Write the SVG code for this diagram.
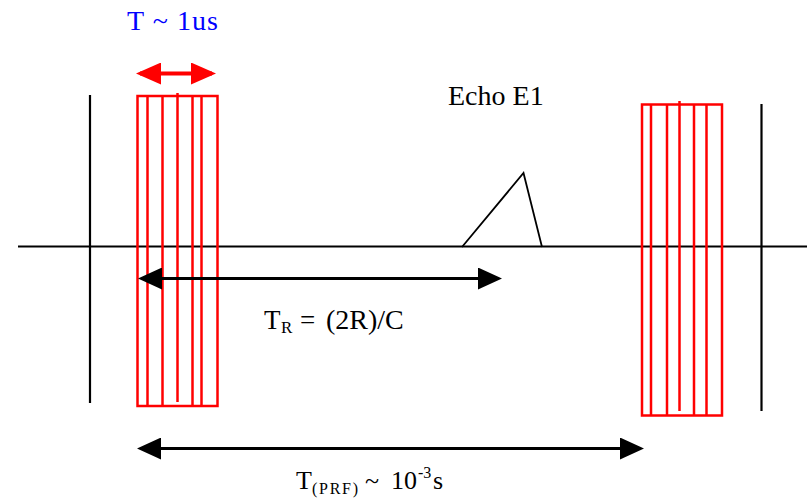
<svg xmlns="http://www.w3.org/2000/svg" width="807" height="498" viewBox="0 0 807 498">
<style>
.ax{stroke:#000;stroke-width:2.2;fill:none}
.pulse{stroke:#ff0000;stroke-width:2.5;fill:none}
.arr{stroke:#000;stroke-width:3;fill:none}
.rarr{stroke:#ff0000;stroke-width:4;fill:none}
.echo{stroke:#000;stroke-width:1.8;fill:none}
text{font-family:"Liberation Serif","Times New Roman",serif;fill:#000}
.blue{fill:#0000ff}
</style>
<defs>
<marker id="ah" viewBox="0 0 24 22" refX="20" refY="11" markerWidth="24" markerHeight="22" markerUnits="userSpaceOnUse" orient="auto-start-reverse">
<path d="M0,0 L24,11 L0,22 z" fill="#000"/>
</marker>
<marker id="rah" viewBox="0 0 25 22" refX="21" refY="11" markerWidth="25" markerHeight="22" markerUnits="userSpaceOnUse" orient="auto-start-reverse">
<path d="M0,0 L25,11 L0,22 z" fill="#ff0000"/>
</marker>
</defs>
<rect width="807" height="498" fill="#fff"/>
<g id="axis">
<line class="ax" x1="18" y1="246.5" x2="807" y2="246.5"/>
<line class="ax" x1="90" y1="95" x2="90" y2="403"/>
<line class="ax" x1="761.5" y1="104" x2="761.5" y2="411"/>
</g>
<g id="pulse-left">
<rect class="pulse" x="137.5" y="96" width="80" height="310"/>
<line class="pulse" x1="147.5" y1="96" x2="147.5" y2="406"/>
<line class="pulse" x1="162.5" y1="96" x2="162.5" y2="406"/>
<line class="pulse" x1="177.5" y1="93" x2="177.5" y2="402"/>
<line class="pulse" x1="192.5" y1="96" x2="192.5" y2="406"/>
<line class="pulse" x1="201.5" y1="96" x2="201.5" y2="406"/>
</g>
<g id="pulse-right">
<rect class="pulse" x="642" y="104.5" width="80" height="311"/>
<line class="pulse" x1="651" y1="104.5" x2="651" y2="415.5"/>
<line class="pulse" x1="667" y1="104.5" x2="667" y2="415.5"/>
<line class="pulse" x1="679.5" y1="101" x2="679.5" y2="411"/>
<line class="pulse" x1="694" y1="104.5" x2="694" y2="415.5"/>
<line class="pulse" x1="706.5" y1="104.5" x2="706.5" y2="415.5"/>
</g>
<g id="echo">
<polyline class="echo" points="462,247 523.5,173 542,247"/>
<text x="448" y="105" font-size="28">Echo E1</text>
</g>
<g id="connectors">
<line class="rarr" x1="140" y1="73.5" x2="212" y2="73.5" marker-start="url(#rah)" marker-end="url(#rah)"/>
<line class="arr" x1="142" y1="278.5" x2="498" y2="278.5" marker-start="url(#ah)" marker-end="url(#ah)"/>
<line class="arr" x1="141" y1="448.5" x2="640" y2="448.5" marker-start="url(#ah)" marker-end="url(#ah)"/>
</g>
<g id="labels">
<text class="blue" x="127" y="30" font-size="28" textLength="91">T ~ 1us</text>
<text x="264" y="329" font-size="27">T</text>
<text x="281" y="333" font-size="17">R</text>
<text x="300" y="329" font-size="27">=</text>
<text x="326" y="329" font-size="28">(2R)/C</text>
<text x="296" y="489" font-size="26">T</text>
<text x="312" y="494" font-size="16" textLength="46">(PRF)</text>
<text x="365" y="489" font-size="26">~</text>
<text x="391" y="489" font-size="26">10</text>
<text x="418" y="478" font-size="16">-3</text>
<text x="433" y="489" font-size="26">s</text>
</g>
</svg>
